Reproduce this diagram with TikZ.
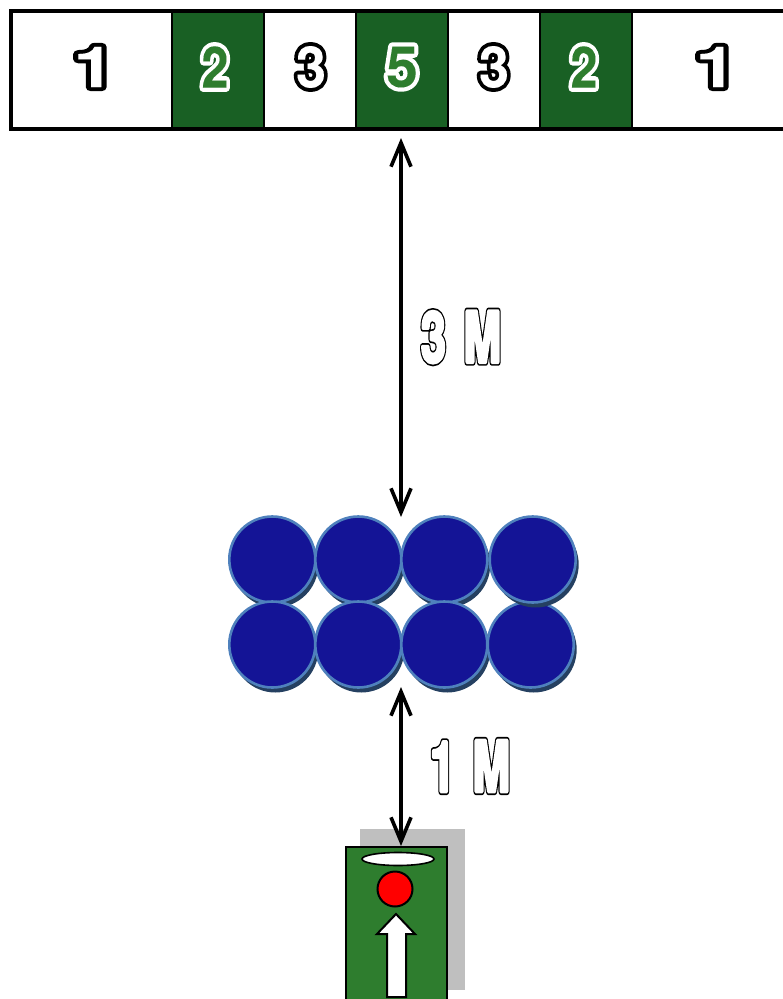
\documentclass[tikz,border=0pt]{standalone}
\usepackage{fontspec}
\setmainfont{TeX Gyre Heros}
\usepackage[dvipsnames]{xcolor}
\usetikzlibrary{arrows.meta}
\usetikzlibrary{positioning}
\usetikzlibrary{shadows}
\usetikzlibrary{shapes.geometric}
\definecolor{laneGreen}{RGB}{25,96,36}
\definecolor{boxGreen}{RGB}{46,125,46}
\definecolor{discBlue}{RGB}{20,20,150}
\definecolor{discEdge}{RGB}{79,129,189}
\definecolor{discShade}{RGB}{37,64,97}
\definecolor{boxShade}{RGB}{191,191,191}
% text with an outline: one stroked copy below, one copy in the fill colour above
\newcommand{\strokedtext}[3]{{\color{#1}\special{pdf:code #2 w 1 j 2 Tr}#3\special{pdf:code 0 Tr 1 w 0 j}}}
\newcommand{\outlined}[5]{\rlap{\strokedtext{#2}{#3}{#5}}\strokedtext{#1}{#4}{#5}}
\tikzset{
	cell/.style={draw=black,line width=2.4pt,minimum height=117pt,inner sep=0pt},
	digit/.style={font=\fontsize{57}{57}\selectfont\bfseries,inner sep=0pt},
	sizelabel/.style={font=\fontsize{70}{70}\selectfont\bfseries,inner sep=0pt,xscale=0.64},
	disc/.style={circle,draw=discEdge,line width=2.6pt,fill=discBlue,minimum size=86pt,inner sep=0pt,
		general shadow={shadow xshift=3pt,shadow yshift=-5pt,fill=discShade}},
	gap/.style={<->,>={Straight Barb[length=24pt,width=20pt]},line width=3.6pt}
}
\begin{document}
\begin{tikzpicture}[line cap=butt,line join=miter,x=1pt,y=-1pt]
	\useasboundingbox (0,0) rectangle (783,999);
	\clip (0,0) rectangle (783,999);
	\foreach \nm/\xa/\xb/\col in {a/11/172/white,b/172/264/laneGreen,c/264/356/white,d/356/448/laneGreen,e/448/540/white,f/540/632/laneGreen,g/632/800/white}
	\node[cell,fill=\col,minimum width=\xb-\xa] (cell\nm) at ({(\xa+\xb)/2},70) {};
	\draw[line width=4.5pt] (800,11) -- (11,11) -- (11,129) -- (800,129);
	\foreach \x/\d/\nm/\sx in {94/1/a/1.3,311/3/c/0.95,494/3/e/0.95,716/1/g/1.3}
	\node[digit,xscale=\sx] (num\nm) at (\x,67) {\outlined{white}{black}{8}{0}{\d}};
	\foreach \x/\d/\nm/\sx in {215/2/b/0.85,402/5/d/1,584/2/f/0.85}
	\node[digit,xscale=\sx] (num\nm) at (\x,67) {\outlined{boxGreen}{white}{8.5}{0}{\d}};
	\foreach \x/\nm in {272.3/a,358.3/b,444.3/c}
	\node[disc] (top\nm) at (\x,559.5) {};
	\foreach \x/\nm in {272.3/a,358.3/b,444.3/c,530.7/d}
	\node[disc] (low\nm) at (\x,644.5) {};
	\node[disc] (topd) at (532.7,559.5) {};
	\fill[boxShade] (360,829) rectangle (465,990);
	\draw[fill=boxGreen,line width=2pt] (346,847) rectangle (447,1005);
	\node[draw=black,line width=1.6pt,fill=white,ellipse,minimum width=72pt,minimum height=13pt,inner sep=0pt] (lens) at (398,859) {};
	\node[draw=black,line width=2pt,fill=red,circle,minimum size=35pt,inner sep=0pt] (lamp) at (395,889) {};
	\draw[fill=white,line width=2pt] (396,914) -- (415,934) -- (406,934) -- (406,997) -- (387,997) -- (387,934) -- (377,934) -- cycle;
	\coordinate (farA) at (401,138);
	\coordinate (farB) at (401,517);
	\coordinate (nearA) at (401,687);
	\coordinate (nearB) at (401,846);
	\draw[gap] (farA) -- (farB);
	\draw[gap] (nearA) -- (nearB);
	\node[sizelabel] (farlabel) at (461,337) {\outlined{white}{black}{7}{3.6}{3\hspace{0.12em} M}};
	\node[sizelabel] (nearlabel) at (470,766) {\outlined{white}{black}{7}{3.6}{1\hspace{0.12em} M}};
\end{tikzpicture}
\end{document}
